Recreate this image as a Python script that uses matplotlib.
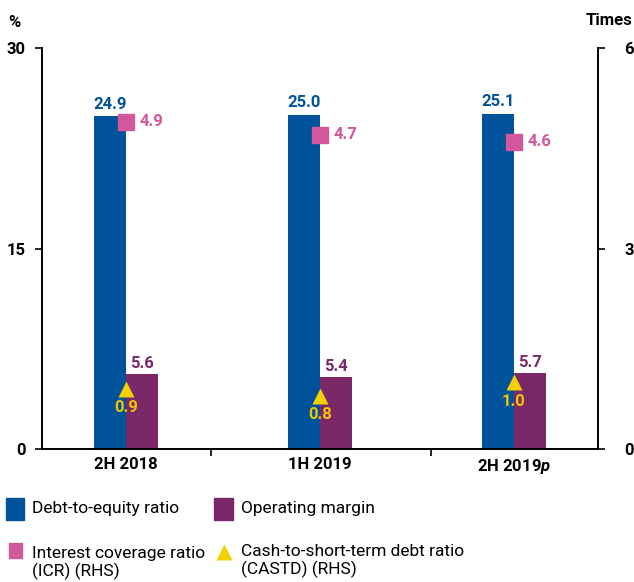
import matplotlib
matplotlib.use("Agg")
import numpy as np
import matplotlib.pyplot as plt
from matplotlib.lines import Line2D
from matplotlib.patches import Rectangle

# Data
periods = ["2H 2018", "1H 2019", "2H 2019$\\mathit{p}$"]
debt_to_equity = [24.9, 25.0, 25.1]      # % (LHS)
operating_margin = [5.6, 5.4, 5.7]       # % (LHS)
icr = [4.9, 4.7, 4.6]                    # times (RHS)
castd = [0.9, 0.8, 1.0]                  # times (RHS)

blue = "#00529b"
purple = "#7b2869"
pink = "#d2579c"
yellow = "#f5d000"

plt.rcParams["font.family"] = ["Roboto", "DejaVu Sans"]
plt.rcParams["mathtext.fontset"] = "custom"
plt.rcParams["mathtext.it"] = "Roboto:italic:bold"

fig = plt.figure(figsize=(6.34, 5.82), dpi=100)
ax = fig.add_axes([0.0662, 0.2285, 0.877, 0.689])
ax2 = ax.twinx()

x = np.arange(len(periods))
w = 0.165

ax.bar(x - w / 2, debt_to_equity, width=w, color=blue)
ax.bar(x + w / 2, operating_margin, width=w, color=purple)

for xi, v in zip(x, debt_to_equity):
    ax.text(xi - w / 2, v + 0.35, f"{v:.1f}", ha="center", va="bottom",
            color=blue, fontsize=12, fontweight="bold")
for xi, v in zip(x, operating_margin):
    ax.text(xi + w / 2, v + 0.2, f"{v:.1f}", ha="center", va="bottom",
            color=purple, fontsize=12, fontweight="bold")

ax2.plot(x, icr, ls="none", marker="s", ms=11, color=pink)
ax2.plot(x, castd, ls="none", marker="^", ms=11, color=yellow, mec="none")
for xi, v in zip(x, icr):
    ax2.text(xi + 0.07, v, f"{v:.1f}", ha="left", va="center",
             color=pink, fontsize=12, fontweight="bold")
for xi, v in zip(x, castd):
    ax2.text(xi, v - 0.17, f"{v:.1f}", ha="center", va="top",
             color="#f0c400", fontsize=12, fontweight="bold")

ax.set_xlim(-0.433, 2.433)
ax.set_ylim(0, 30)
ax2.set_ylim(0, 6)
ax.set_yticks([0, 15, 30])
ax2.set_yticks([0, 3, 6])

ax.set_xticks(x)
ax.set_xticklabels(periods, fontsize=12, fontweight="bold")
ax.set_xticks([0.438, 1.572], minor=True)
ax.tick_params(axis="x", which="major", length=0, pad=6)
ax.tick_params(axis="x", which="minor", length=5, width=1.2)
ax.tick_params(axis="y", length=5, width=1.2, pad=7, labelsize=12)
ax2.tick_params(axis="y", length=5, width=1.2, pad=14, labelsize=12)
for lab in ax.get_yticklabels() + ax2.get_yticklabels():
    lab.set_fontweight("bold")

for a in (ax, ax2):
    a.spines["top"].set_visible(False)
    for s in ("left", "right", "bottom"):
        a.spines[s].set_linewidth(1.2)

fig.text(0.013, 0.962, "%", fontsize=12, fontweight="bold", va="center")
fig.text(0.998, 0.965, "Times", fontsize=12, fontweight="bold", va="center", ha="right")

# legend drawn by hand
fig.add_artist(Rectangle((6 / 634, 1 - 520 / 582), 18 / 634, 22 / 582,
                         transform=fig.transFigure, color=blue))
fig.add_artist(Rectangle((214 / 634, 1 - 520 / 582), 19 / 634, 22 / 582,
                         transform=fig.transFigure, color=purple))
fig.add_artist(Rectangle((9 / 634, 1 - 558 / 582), 13 / 634, 15 / 582,
                         transform=fig.transFigure, color=pink))
fig.add_artist(Line2D([224 / 634], [1 - 552 / 582], marker="^", ms=12,
                      color=yellow, mec="none", transform=fig.transFigure))
fig.text(32 / 634, 1 - 508 / 582, "Debt-to-equity ratio", fontsize=12.5, va="center")
fig.text(241 / 634, 1 - 508 / 582, "Operating margin", fontsize=12.5, va="center")
fig.text(32 / 634, 1 - 563 / 582, "Interest coverage ratio\n(ICR) (RHS)",
         fontsize=12.5, va="center", linespacing=1.2)
fig.text(241 / 634, 1 - 561 / 582, "Cash-to-short-term debt ratio\n(CASTD) (RHS)",
         fontsize=12.5, va="center", linespacing=1.2)

fig.savefig("out.png", dpi=100)
